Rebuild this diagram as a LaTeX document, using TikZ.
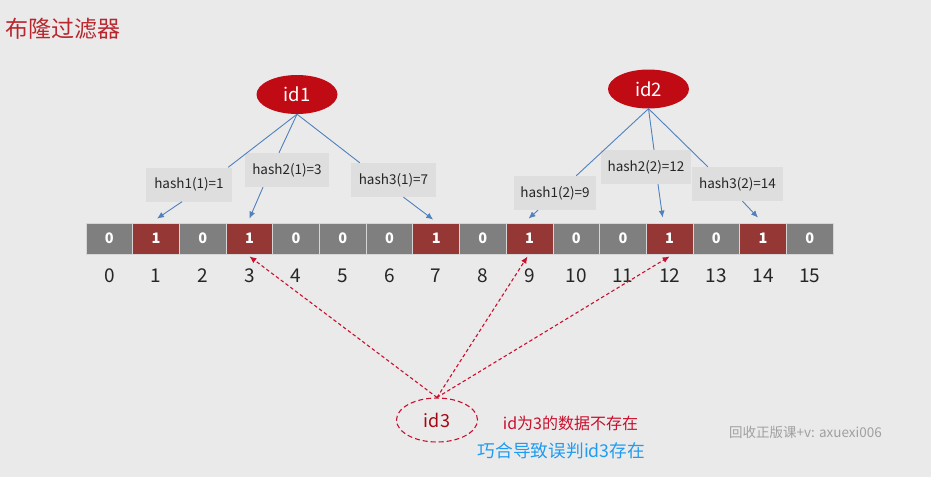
\documentclass[tikz,border=0pt]{standalone}
\usepackage{fontspec}
\setmainfont{Noto Sans CJK SC}
\usetikzlibrary{shapes.geometric,arrows.meta,calc}
\definecolor{bg}{HTML}{EBEAEB}
\definecolor{titlered}{HTML}{B8272E}
\definecolor{ellred}{HTML}{C00A14}
\definecolor{cellred}{HTML}{953735}
\definecolor{cellgray}{HTML}{7F7F7F}
\definecolor{cellsep}{HTML}{D6D6D6}
\definecolor{boxgray}{HTML}{DFDEDF}
\definecolor{lineblue}{HTML}{4F81BD}
\definecolor{dashred}{HTML}{C8102E}
\definecolor{txtblue}{HTML}{1F9CF0}
\definecolor{wmgray}{HTML}{A0A0A0}
\tikzset{
  titletext/.style={text=titlered,font=\fontsize{23}{26}\selectfont,inner sep=0pt},
  cellbase/.style={minimum width=46.69pt,minimum height=31pt,inner sep=0pt,draw=cellsep,line width=0.8pt,text=white,font=\fontsize{14.5}{16}\selectfont\bfseries},
  cell0/.style={cellbase,fill=cellgray},
  cell1/.style={cellbase,fill=cellred},
  idxtext/.style={text=black!85,font=\fontsize{19}{20}\selectfont,inner sep=0pt},
  idell/.style={ellipse,fill=ellred,text=white,minimum width=81pt,minimum height=39pt,inner sep=0pt,font=\fontsize{18.5}{20}\selectfont},
  hashbox/.style={fill=boxgray,minimum height=34pt,inner sep=0pt,text=black!85,font=\fontsize{13.5}{15}\selectfont},
  bline/.style={draw=lineblue,line width=0.9pt},
  barrow/.style={draw=lineblue,line width=0.9pt,-{Latex[length=7pt,width=6pt]}},
  rarrow/.style={draw=dashred,line width=1.1pt,dash pattern=on 3.5pt off 2.5pt,-{Latex[length=7pt,width=6pt]}},
  id3ell/.style={ellipse,draw=dashred,line width=1.1pt,dash pattern=on 5pt off 3pt,text=ellred!85!black,minimum width=81pt,minimum height=44pt,inner sep=0pt,font=\fontsize{18}{20}\selectfont},
}
\begin{document}
\begin{tikzpicture}[x=1pt,y=-1pt]
\useasboundingbox (0,0) rectangle (931,477);
\fill[bg] (0,0) rectangle (931,477);
\node[titletext] (title) at (63,29) {布隆过滤器};

\foreach \i/\v in {0/0,1/1,2/0,3/1,4/0,5/0,6/0,7/1,8/0,9/1,10/0,11/0,12/1,13/0,14/1,15/0}{
  \node[cell\v] (c\i) at ({86+46.69*(\i+0.5)},238.5) {\v};
  \node[idxtext] (n\i) at ({86+46.69*(\i+0.5)},276) {\i};
}

\node[idell] (id1) at (297,94.5) {id1};
\node[idell] (id2) at (648.5,89) {id2};

\node[hashbox,minimum width=86pt] (h11) at (189,184.5) {hash1(1)=1};
\node[hashbox,minimum width=84pt] (h21) at (287,170) {hash2(1)=3};
\node[hashbox,minimum width=85pt] (h31) at (393.5,180) {hash3(1)=7};
\node[hashbox,minimum width=82pt] (h12) at (555,193) {hash1(2)=9};
\node[hashbox,minimum width=90pt] (h22) at (646,167) {hash2(2)=12};
\node[hashbox,minimum width=91pt] (h32) at (737.5,184) {hash3(2)=14};

\draw[bline] (id1.south) -- ($(h11.north east)+(-4,0)$);
\draw[bline] (id1.south) -- ($(h21.north)+(-8,0)$);
\draw[bline] (id1.south) -- ($(h31.north west)+(9,0)$);
\draw[bline] (id2.south) -- ($(h12.north east)+(-20,0)$);
\draw[bline] (id2.south) -- ($(h22.north)+(8,0)$);
\draw[bline] (id2.south) -- ($(h32.north west)+(16,0)$);

\draw[barrow] ($(h11.south)+(-7,0)$) -- ($(c1.north)+(1,-4)$);
\draw[barrow] ($(h21.south)+(-24,0)$) -- ($(c3.north)+(0,-4)$);
\draw[barrow] ($(h31.south)+(10,0)$) -- ($(c7.north)+(-3,-3)$);
\draw[barrow] ($(h12.south)+(-17,0)$) -- ($(c9.north)+(-1,-4)$);
\draw[barrow] ($(h22.south)+(12,0)$) -- ($(c12.north)+(-7,-5)$);
\draw[barrow] ($(h32.south)+(5,0)$) -- ($(c14.north)+(-5,-5)$);

\node[id3ell] (id3) at (437,420) {id3};
\draw[rarrow] (id3.north) -- ($(c3.south)+(0,2)$);
\draw[rarrow] (id3.north) -- ($(c9.south)+(-2,2)$);
\draw[rarrow] (id3.north) -- ($(c12.south)+(0,2)$);

\node[text=dashred,inner sep=0pt,font=\fontsize{16}{18}\selectfont] (t1) at (570.5,423) {id为3的数据不存在};
\node[text=txtblue,inner sep=0pt,font=\fontsize{17.7}{19}\selectfont] (t2) at (561.5,451) {巧合导致误判id3存在};
\node[text=wmgray,inner sep=0pt,font=\fontsize{13.5}{15}\selectfont] (wm) at (805.5,432) {回收正版课+v: axuexi006};
\end{tikzpicture}
\end{document}
